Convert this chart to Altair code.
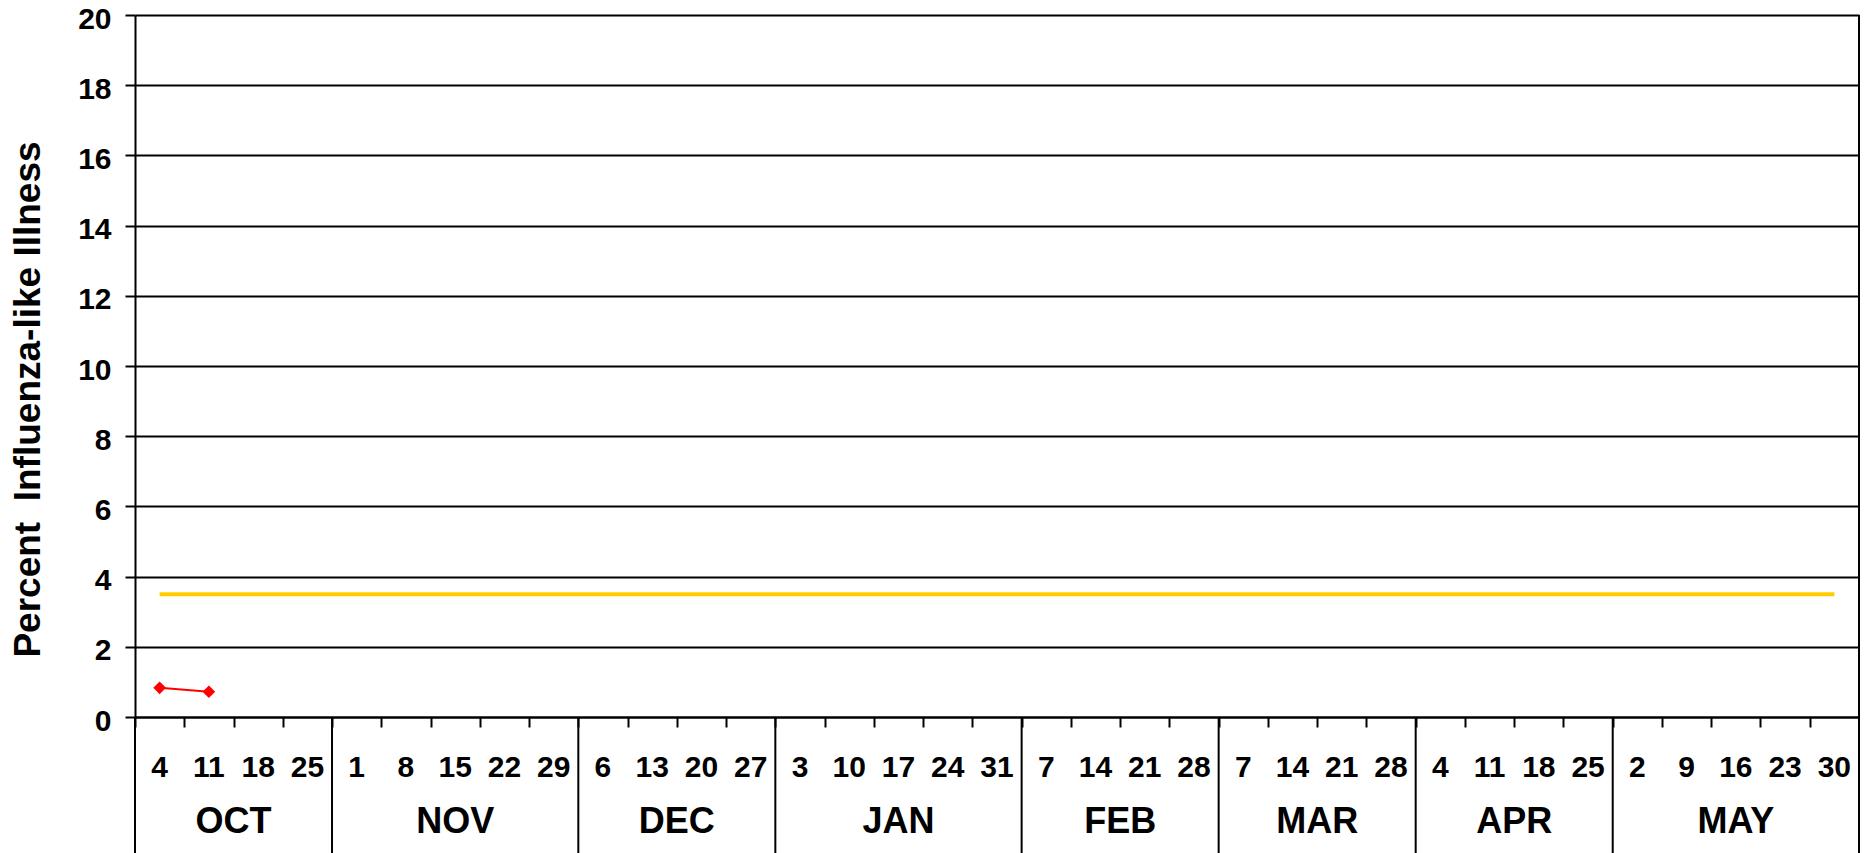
import altair as alt
import pandas as pd

# ---- data ----
weeks = ["4", "11", "18", "25",
         "1", "8", "15", "22", "29",
         "6", "13", "20", "27",
         "3", "10", "17", "24", "31",
         "7", "14", "21", "28",
         "7", "14", "21", "28",
         "4", "11", "18", "25",
         "2", "9", "16", "23", "30"]
months = ["OCT", "NOV", "DEC", "JAN", "FEB", "MAR", "APR", "MAY"]
month_weeks = [4, 5, 4, 5, 4, 4, 4, 5]
ili_values = [0.83, 0.72]          # percent ILI, first weeks reported
baseline_value = 3.5               # regional baseline
y_ticks = [0, 2, 4, 6, 8, 10, 12, 14, 16, 18, 20]

# ---- layout ----
W, H = 1724, 702
BOTTOM = 138
FONT = "Liberation Sans"

n = len(weeks)
df_week = pd.DataFrame({
    "pos": [i + 0.5 for i in range(n)],
    "week": weeks,
    "val": [baseline_value] * n,
})
df_ili = pd.DataFrame({"pos": [i + 0.5 for i in range(len(ili_values))], "val": ili_values})

bounds = [0]
for m in month_weeks:
    bounds.append(bounds[-1] + m)
df_month = pd.DataFrame({
    "pos": [(bounds[i] + bounds[i + 1]) / 2 for i in range(len(months))],
    "month": months,
})
df_sep = pd.DataFrame({"pos": bounds[:-1]})
df_right = pd.DataFrame({"pos": [bounds[-1]]})

x_enc = alt.X(
    "pos:Q",
    scale=alt.Scale(domain=[0, n], nice=False, zero=False),
    axis=alt.Axis(values=list(range(n + 1)), tickSize=10, labels=False, title=None,
                  grid=False, domainColor="black", domainWidth=2,
                  tickColor="black", tickWidth=2),
)
y_enc = alt.Y(
    "val:Q",
    scale=alt.Scale(domain=[0, 20], nice=False),
    axis=alt.Axis(values=y_ticks, title="Percent\u00a0 Influenza-like Illness",
                  titleFont=FONT, titleFontSize=37, titleFontWeight="bold",
                  titleColor="black", titleAngle=270, titleX=-107, titleY=384,
                  titleAlign="center", titleBaseline="middle",
                  labelFont=FONT, labelFontSize=30, labelFontWeight="bold",
                  labelColor="black", labelPadding=14, labelOffset=4,
                  tickSize=10, tickColor="black", tickWidth=2,
                  domainColor="black", domainWidth=2,
                  grid=True, gridColor="black", gridWidth=2),
)

baseline_line = alt.Chart(df_week).mark_line(color="#FFCC00", strokeWidth=4).encode(x=x_enc, y=y_enc)
ili_line = alt.Chart(df_ili).mark_line(color="#FF0000", strokeWidth=2).encode(x=x_enc, y=y_enc)
ili_pts = alt.Chart(df_ili).mark_point(shape="diamond", filled=True, color="#FF0000",
                                       size=160, opacity=1).encode(x=x_enc, y=y_enc)

week_text = alt.Chart(df_week).mark_text(font=FONT, fontSize=30, fontWeight="bold",
                                         color="black", baseline="middle", align="center").encode(
    x=x_enc, y=alt.value(H + 51), text="week:N")
month_text = alt.Chart(df_month).mark_text(font=FONT, fontSize=36, fontWeight="bold",
                                           color="black", baseline="middle", align="center").encode(
    x=x_enc, y=alt.value(H + 105), text="month:N")

sep_rules = alt.Chart(df_sep).mark_rule(color="black", strokeWidth=2).encode(
    x=x_enc, y=alt.value(H), y2=alt.value(H + BOTTOM))
right_rule = alt.Chart(df_right).mark_rule(color="black", strokeWidth=2).encode(
    x=x_enc, y=alt.value(0), y2=alt.value(H + BOTTOM))

chart = alt.layer(
    baseline_line, ili_line, ili_pts, week_text, month_text, sep_rules, right_rule
).properties(
    width=W, height=H,
    autosize=alt.AutoSizeParams(type="none"),
    padding={"left": 127, "top": 7, "right": 1, "bottom": BOTTOM},
).configure_view(stroke=None).configure(background="white")

chart.save("out.html", embed_options={"renderer": "svg", "actions": False})
